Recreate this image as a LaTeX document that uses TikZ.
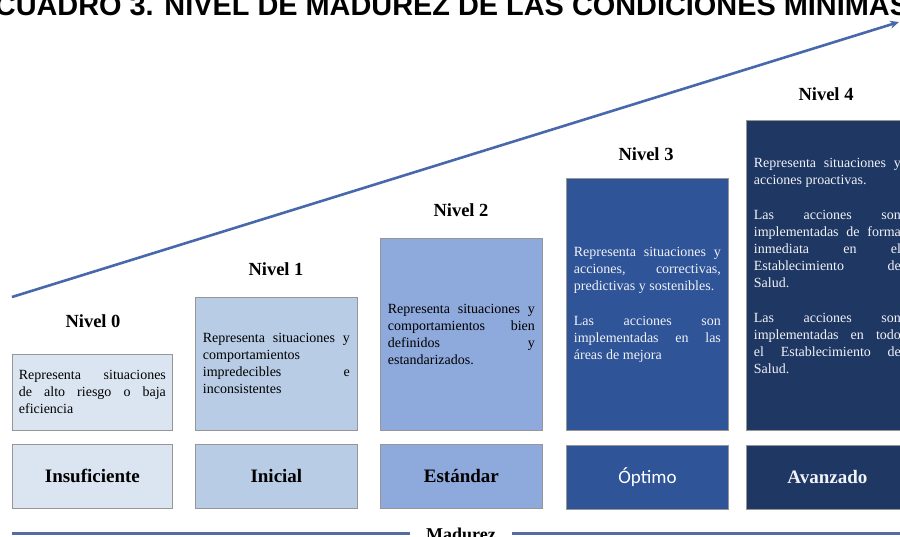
\documentclass[tikz,border=0pt]{standalone}
\usepackage{fontspec}
\setmainfont{Liberation Serif}
\newfontfamily\titlefont{Liberation Sans}
\newfontfamily\calfont{Carlito}
\usetikzlibrary{arrows.meta}
\definecolor{cA}{RGB}{219,229,242}
\definecolor{cB}{RGB}{184,204,229}
\definecolor{cC}{RGB}{142,169,219}
\definecolor{cD}{RGB}{47,84,151}
\definecolor{cE}{RGB}{31,55,99}
\definecolor{bordergray}{RGB}{150,150,150}
\definecolor{arrowblue}{RGB}{72,104,172}
\definecolor{madblue}{RGB}{84,108,160}
\definecolor{lighttext}{RGB}{240,242,248}
\hyphenpenalty=10000
\exhyphenpenalty=10000
\setlength{\parindent}{0pt}
\begin{document}
\begin{tikzpicture}[x=1pt,y=-1pt,
  descbox/.style={draw=bordergray, line width=0.8pt, anchor=north west, inner sep=0pt,
    text width=147pt, align=justify, minimum width=162pt,
    font=\fontsize{14}{17}\selectfont},
  lvlbox/.style={draw=bordergray, line width=0.8pt, anchor=north west, inner sep=0pt,
    minimum width=162pt, minimum height=64pt, font=\bfseries\fontsize{19}{22}\selectfont},
  nivel/.style={font=\bfseries\fontsize{18.5}{21}\selectfont, anchor=base},
]
\useasboundingbox (0,0) rectangle (900,537);

% title (cut at top)
\node[anchor=base, inner sep=0pt, font=\titlefont\bfseries] (title) at (452,16)
  {\resizebox{914pt}{!}{CUADRO 3. NIVEL DE MADUREZ DE LAS CONDICIONES MINIMAS}};

% rising arrow
\coordinate (as) at (12,297);
\coordinate (ae) at (899,22);
\draw[arrowblue, line width=2.6pt, -{Stealth[length=9pt,width=8pt]}] (as) -- (ae);

% description boxes
\node[descbox, fill=cA, minimum width=160pt, minimum height=76pt] (d0) at (12,354)
  {Representa situaciones\linebreak de alto riesgo o baja\linebreak eficiencia};
\node[descbox, fill=cB, minimum height=133pt] (d1) at (195,297)
  {Representa situaciones y\linebreak comportamientos\linebreak impredecibles e\linebreak inconsistentes};
\node[descbox, fill=cC, minimum height=192pt] (d2) at (380,238)
  {Representa situaciones y\linebreak comportamientos bien\linebreak definidos y\linebreak estandarizados.};
\node[descbox, fill=cD, text=lighttext, minimum height=252pt] (d3) at (566,178)
  {Representa situaciones y\linebreak acciones, correctivas,\linebreak predictivas y sostenibles.\par\vspace{18pt}
   Las acciones son\linebreak implementadas en las\linebreak áreas de mejora};
\node[descbox, fill=cE, text=lighttext, minimum height=310pt] (d4) at (746,120)
  {Representa situaciones y\linebreak acciones proactivas.\par\vspace{18pt}
   Las acciones son\linebreak implementadas de forma\linebreak inmediata en el\linebreak Establecimiento de\linebreak Salud.\par\vspace{18pt}
   Las acciones son\linebreak implementadas en todo\linebreak el Establecimiento de\linebreak Salud.\par\vspace{18pt}};

% level titles
\node[nivel] (n0) at (93,328) {Nivel 0};
\node[nivel] (n1) at (276,276) {Nivel 1};
\node[nivel] (n2) at (461,217) {Nivel 2};
\node[nivel] (n3) at (646,161) {Nivel 3};
\node[nivel] (n4) at (826,101) {Nivel 4};

% bottom level boxes
\node[lvlbox, fill=cA, minimum width=160pt] (b0) at (12,444) {Insuficiente};
\node[lvlbox, fill=cB] (b1) at (195,444) {Inicial};
\node[lvlbox, fill=cC] (b2) at (380,444) {Estándar};
\node[lvlbox, fill=cD, text=white, font=\calfont\fontsize{19}{22}\selectfont] (b3) at (566,445) {Óptimo};
\node[lvlbox, fill=cE, text=lighttext] (b4) at (746,445) {Avanzado};

% maturity axis
\node[anchor=base, inner xsep=16pt, inner ysep=0pt, font=\bfseries\fontsize{18}{20}\selectfont] (mad) at (461,540) {Madurez};
\coordinate (ml) at (12,533);
\coordinate (mr) at (900,533);
\draw[madblue, line width=3pt] (ml) -- (ml -| mad.west);
\draw[madblue, line width=3pt] (ml -| mad.east) -- (mr);
\end{tikzpicture}
\end{document}
